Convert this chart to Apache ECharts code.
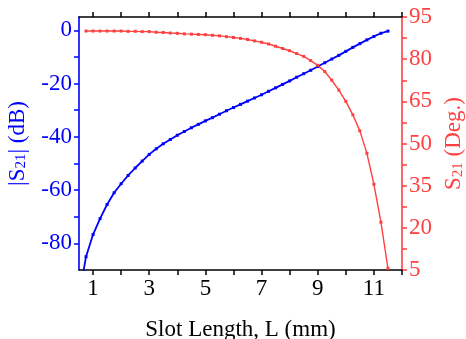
<!DOCTYPE html>
<html><head><meta charset="utf-8">
<script src="https://cdn.jsdelivr.net/npm/echarts@6/dist/echarts.min.js"></script>
<style>html,body{margin:0;padding:0;background:#fff}#c{width:466px;height:339px}</style>
</head><body><div id="c"></div>
<script>
const lenBlue = [0.5,0.75,1.0,1.25,1.5,1.75,2.0,2.25,2.5,2.75,3.0,3.25,3.5,3.75,4.0,4.25,4.5,4.75,5.0,5.25,5.5,5.75,6.0,6.25,6.5,6.75,7.0,7.25,7.5,7.75,8.0,8.25,8.5,8.75,9.0,9.25,9.5,9.75,10.0,10.25,10.5,10.75,11.0,11.25,11.5];
const s21dB = [-100,-85,-76.7,-70.7,-65.4,-61.0,-57.6,-54.5,-51.7,-49.1,-46.6,-44.5,-42.6,-41.0,-39.4,-38.0,-36.6,-35.3,-34.0,-32.8,-31.5,-30.2,-29.0,-27.8,-26.6,-25.4,-24.2,-22.9,-21.6,-20.3,-19.0,-17.6,-16.3,-15.0,-13.6,-12.2,-10.8,-9.4,-7.9,-6.4,-5.0,-3.6,-2.3,-1.1,-0.3];
const lenRed = [0.75,1.0,1.25,1.5,1.75,2.0,2.25,2.5,2.75,3.0,3.25,3.5,3.75,4.0,4.25,4.5,4.75,5.0,5.25,5.5,5.75,6.0,6.25,6.5,6.75,7.0,7.25,7.5,7.75,8.0,8.25,8.5,8.75,9.0,9.25,9.5,9.75,10.0,10.25,10.5,10.75,11.0,11.25,11.5];
const s21Deg = [90.0,90.0,90.0,90.0,90.0,90.0,89.9,89.9,89.8,89.8,89.6,89.5,89.3,89.2,89.0,88.9,88.8,88.7,88.5,88.3,88.0,87.7,87.4,87.0,86.5,86.0,85.4,84.6,83.8,83.0,82.0,81.0,79.5,77.8,75.6,72.5,69.0,65.0,60.2,54.5,46.5,35.5,22.0,5.6];
const xLabels = [1,3,5,7,9,11];
const xTickVals = [1,2,3,4,5,6,7,8,9,10,11,12];
const yLeftLabels = [0,-20,-40,-60,-80];
const yLeftTickVals = [0,-10,-20,-30,-40,-50,-60,-70,-80];
const yRightLabels = [5,20,35,50,65,80,95];
const yRightTickVals = [5,12.5,20,27.5,35,42.5,50,57.5,65,72.5,80,87.5,95];

const BLUE = '#0000ff', RED = '#ff4040', FONT = 'Liberation Serif';
const grid = {left:79, right:64, top:17, bottom:69, outerBoundsMode:'none'};

const xAxes = [
  {type:'value', position:'bottom', min:0.5, max:12,
    axisLine:{show:true, onZero:false, lineStyle:{color:'#000', width:1.6}},
    axisTick:{show:true, length:5, customValues:xTickVals, lineStyle:{color:'#000', width:1.5}},
    axisLabel:{show:true, customValues:xLabels, color:'#000', fontFamily:FONT, fontSize:23, margin:7},
    splitLine:{show:false},
    name:'Slot Length, L (mm)', nameLocation:'middle', nameGap:48,
    nameTextStyle:{color:'#000', fontFamily:FONT, fontSize:23}},
  {type:'value', position:'top', min:0.5, max:12,
    axisLine:{show:true, onZero:false, lineStyle:{color:'#000', width:1.6}},
    axisTick:{show:true, length:5, customValues:xTickVals, lineStyle:{color:'#000', width:1.5}},
    axisLabel:{show:false}, splitLine:{show:false}}
];
const yAxes = [
  {type:'value', position:'left', min:-90, max:5,
    axisLine:{show:true, onZero:false, lineStyle:{color:BLUE, width:1.6}},
    axisTick:{show:true, length:5, customValues:yLeftTickVals, lineStyle:{color:BLUE, width:1.5}},
    axisLabel:{show:true, customValues:yLeftLabels, color:BLUE, fontFamily:FONT, fontSize:23, margin:7},
    splitLine:{show:false},
    name:'|S{sub|21}| (dB)', nameLocation:'middle', nameGap:50, nameRotate:90,
    nameTextStyle:{color:BLUE, fontFamily:FONT, fontSize:23, rich:{sub:{fontSize:15, fontFamily:FONT, color:BLUE, verticalAlign:'bottom', padding:[8,0,0,0]}}}},
  {type:'value', position:'right', min:5, max:95,
    axisLine:{show:true, onZero:false, lineStyle:{color:RED, width:1.6}},
    axisTick:{show:true, length:5, customValues:yRightTickVals, lineStyle:{color:RED, width:1.5}},
    axisLabel:{show:true, customValues:yRightLabels, color:RED, fontFamily:FONT, fontSize:23, margin:7},
    splitLine:{show:false},
    name:'S{sub|21} (Deg.)', nameLocation:'middle', nameGap:39, nameRotate:90,
    nameTextStyle:{color:RED, fontFamily:FONT, fontSize:23, rich:{sub:{fontSize:15, fontFamily:FONT, color:RED, verticalAlign:'bottom', padding:[8,0,0,0]}}}}
];
const chart = echarts.init(document.getElementById('c'), null, {renderer:'canvas'});
chart.setOption({
  animation:false,
  grid:grid,
  xAxis:xAxes,
  yAxis:yAxes,
  series:[
    {type:'line', xAxisIndex:0, yAxisIndex:0, data:lenBlue.map((l,i)=>[l,s21dB[i]]), symbol:'rect', symbolSize:3, showSymbol:true,
      lineStyle:{color:BLUE, width:1.8}, itemStyle:{color:BLUE}, clip:true},
    {type:'line', xAxisIndex:0, yAxisIndex:1, data:lenRed.map((l,i)=>[l,s21Deg[i]]), symbol:'rect', symbolSize:3, showSymbol:true,
      lineStyle:{color:RED, width:1.4}, itemStyle:{color:RED}, clip:true}
  ]
});
</script></body></html>
